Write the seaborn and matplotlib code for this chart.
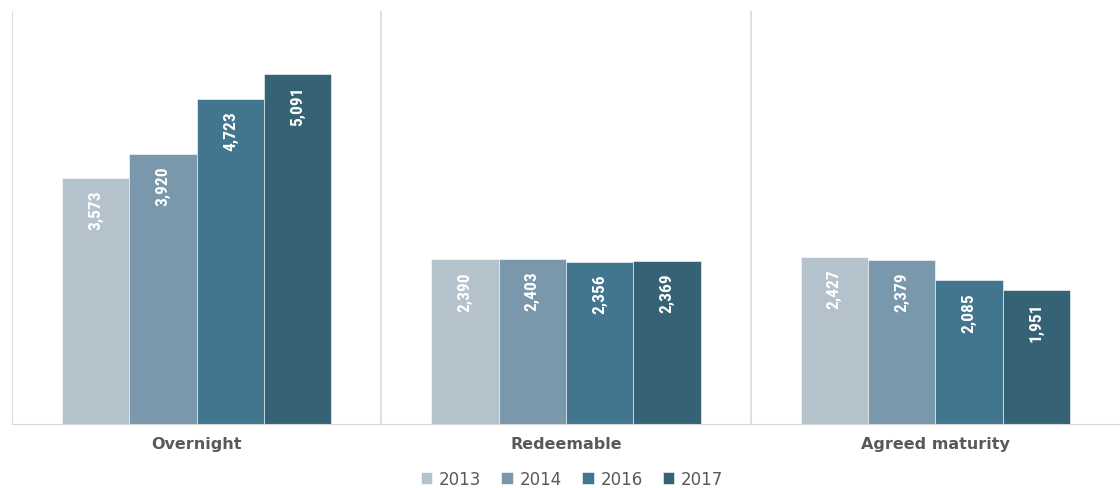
import matplotlib
matplotlib.use("Agg")
import matplotlib.pyplot as plt
import matplotlib.font_manager as fm
import pandas as pd
import seaborn as sns

categories = ["Overnight", "Redeemable", "Agreed maturity"]
years = ["2013", "2014", "2016", "2017"]
values_2013 = [3573, 2390, 2427]
values_2014 = [3920, 2403, 2379]
values_2016 = [4723, 2356, 2085]
values_2017 = [5091, 2369, 1951]

COLORS = ["#b4c2cc", "#7a98ab", "#42758e", "#356274"]

df = pd.DataFrame({
    "category": categories * 4,
    "year": [y for y in years for _ in categories],
    "value": values_2013 + values_2014 + values_2016 + values_2017,
})

sns.set_style("white")
plt.rcParams["font.family"] = ["DejaVu Sans"]

# narrow font for the value labels, if one is installed
names = {f.name for f in fm.fontManager.ttflist}
narrow = None
for cand in ["Liberation Sans Narrow", "DejaVu Sans Condensed", "Roboto Condensed",
             "Open Sans Condensed"]:
    if cand in names:
        narrow = cand
        break

fig = plt.figure(figsize=(11.2, 4.89), dpi=100)
ax = fig.add_axes([12 / 1120, 1 - 425 / 489, 1108 / 1120, 413 / 489])

sns.barplot(data=df, x="category", y="value", hue="year", order=categories,
            hue_order=years, palette=COLORS, width=0.73, gap=0,
            edgecolor="#ffffff", linewidth=0.4, saturation=1, ax=ax,
            legend=True)

ax.set_ylim(0, 6000)
ax.set_xlim(-0.5, 2.5)
ax.set_yticks([])
ax.set_xlabel("")
ax.set_ylabel("")
for s in ["top", "right", "left"]:
    ax.spines[s].set_visible(False)
ax.spines["bottom"].set_color("#d9d9d9")
for x in [-0.5, 0.5, 1.5]:
    ax.axvline(x, color="#d9d9d9", lw=1.2, zorder=0)

ax.tick_params(axis="x", length=0, pad=9)
for lbl in ax.get_xticklabels():
    lbl.set_fontweight("bold")
    lbl.set_color("#595959")
    lbl.set_fontsize(11.5)

if narrow:
    lab_font = {"family": narrow, "size": 12.5, "weight": "bold"}
else:
    lab_font = {"family": "DejaVu Sans", "size": 10, "weight": "normal"}

for cont in ax.containers:
    for bar in cont:
        h = bar.get_height()
        ax.text(bar.get_x() + bar.get_width() / 2, h - 6000 * 0.028,
                f"{h:,.0f}", rotation=90, ha="center", va="top",
                color="white", fontdict=lab_font)

handles, labels = ax.get_legend_handles_labels()
ax.legend(handles, labels, loc="center", bbox_to_anchor=(572 / 1120, 1 - 480 / 489),
          bbox_transform=fig.transFigure,
          ncol=4, frameon=False, handlelength=0.7, handleheight=0.7,
          handletextpad=0.4, columnspacing=1.2, borderpad=0,
          prop={"size": 12}, labelcolor="#595959")

fig.savefig("out.png", dpi=100)
